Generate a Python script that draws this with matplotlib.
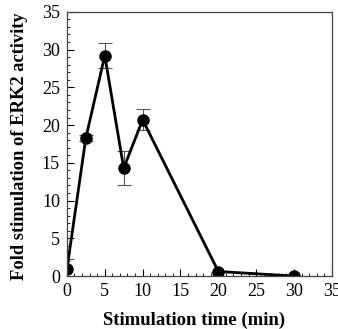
import matplotlib
matplotlib.use("Agg")
import matplotlib.pyplot as plt
from matplotlib.ticker import MultipleLocator

# --- data ---
time_min = [0, 2.5, 5, 7.5, 10, 20, 30]
fold_erk2 = [0.9, 18.3, 29.2, 14.3, 20.7, 0.6, 0.0]
err = [1.3, 0.4, 1.7, 2.3, 1.4, 0.0, 0.0]

plt.rcParams['font.family'] = ['Liberation Serif', 'DejaVu Serif']

fig = plt.figure(figsize=(3.38, 3.29), dpi=100)
ax = fig.add_axes([0.198, 0.161, 0.784, 0.803])

ax.errorbar(time_min, fold_erk2, yerr=err, color='black', linewidth=2,
            marker='o', markersize=8, capsize=5, elinewidth=0.8, capthick=0.8,
            ecolor='#555555')

ax.set_xlim(0, 35)
ax.set_ylim(0, 35)
ax.xaxis.set_major_locator(MultipleLocator(5))
ax.yaxis.set_major_locator(MultipleLocator(5))
ax.xaxis.set_minor_locator(MultipleLocator(1))
ax.yaxis.set_minor_locator(MultipleLocator(1))
ax.tick_params(which='both', direction='in', top=False, right=False, labelsize=13)
ax.tick_params(which='major', length=5, width=0.8, pad=5)
ax.tick_params(which='minor', length=2.5, width=0.6)
for s in ax.spines.values():
    s.set_linewidth(0.9)
    s.set_color('#444444')

ax.set_xlabel("Stimulation time (min)", fontsize=13.5, fontweight='bold')
ax.xaxis.set_label_coords(0.48, -0.136)
ax.set_ylabel("Fold stimulation of ERK2 activity", fontsize=13.3, fontweight='bold')
ax.yaxis.set_label_coords(-0.147, 0.49)

fig.savefig("out.png", dpi=100)
